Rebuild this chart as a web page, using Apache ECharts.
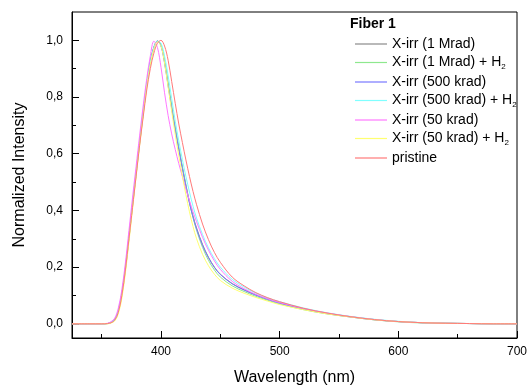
<!DOCTYPE html>
<html><head><meta charset="utf-8">
<script src="https://cdn.jsdelivr.net/npm/echarts@6/dist/echarts.min.js"></script>
<style>html,body{margin:0;padding:0;background:#fff}#c{width:530px;height:385px}</style>
</head><body><div id="c"></div>
<script>
const wavelengths = [325,340,350,355,358,361,364,367,370,373,376,379,382,385,388,391,394,397,400,403,406,409,412,415,418,421,424,427,430,435,440,445,450,460,470,480,490,500,520,540,560,580,600,620,640,660,680,700];

const xirr1M     = [0,0,0,0.001,0.005,0.015,0.045,0.105,0.195,0.305,0.42,0.53,0.64,0.745,0.845,0.925,0.975,0.998,0.982,0.925,0.845,0.765,0.69,0.62,0.553,0.49,0.43,0.38,0.338,0.28,0.235,0.2,0.175,0.142,0.12,0.102,0.087,0.074,0.053,0.037,0.025,0.015,0.008,0.004,0.002,0.001,0,0];
const xirr1MH2   = [0,0,0,0.001,0.004,0.013,0.042,0.1,0.19,0.3,0.415,0.525,0.635,0.74,0.84,0.92,0.972,0.997,0.985,0.93,0.85,0.77,0.693,0.622,0.553,0.488,0.428,0.375,0.33,0.27,0.224,0.19,0.165,0.134,0.114,0.097,0.083,0.07,0.05,0.035,0.024,0.014,0.007,0.003,0.002,0.001,0,0];
const xirr500k   = [0,0,0,0.001,0.005,0.016,0.047,0.108,0.2,0.31,0.425,0.535,0.645,0.75,0.85,0.928,0.977,0.998,0.98,0.92,0.84,0.76,0.685,0.615,0.548,0.485,0.425,0.376,0.334,0.277,0.233,0.199,0.174,0.141,0.119,0.101,0.086,0.073,0.052,0.036,0.024,0.014,0.008,0.004,0.002,0.001,0,0];
const xirr500kH2 = [0,0,0,0.001,0.005,0.015,0.044,0.104,0.193,0.303,0.418,0.528,0.638,0.742,0.842,0.922,0.973,0.997,0.99,0.945,0.875,0.795,0.715,0.645,0.58,0.52,0.465,0.415,0.373,0.315,0.268,0.23,0.2,0.157,0.13,0.108,0.091,0.078,0.056,0.039,0.026,0.016,0.009,0.004,0.002,0.001,0,0];
const xirr50k    = [0,0,0,0.002,0.008,0.02,0.055,0.12,0.215,0.33,0.445,0.555,0.665,0.77,0.865,0.945,0.997,0.975,0.905,0.815,0.735,0.67,0.615,0.565,0.52,0.475,0.435,0.395,0.36,0.305,0.26,0.222,0.192,0.15,0.124,0.104,0.088,0.075,0.054,0.038,0.025,0.015,0.008,0.004,0.002,0.001,0,0];
const xirr50kH2  = [0,0,0,0,0.003,0.01,0.035,0.09,0.18,0.29,0.405,0.52,0.63,0.735,0.835,0.915,0.97,0.995,0.98,0.92,0.835,0.75,0.668,0.593,0.523,0.455,0.395,0.343,0.3,0.245,0.205,0.175,0.153,0.126,0.108,0.093,0.08,0.068,0.05,0.035,0.024,0.014,0.008,0.004,0.002,0.001,0,0];
const pristine   = [0,0,0,0.001,0.004,0.013,0.04,0.1,0.19,0.3,0.41,0.52,0.63,0.73,0.825,0.9,0.955,0.99,1.0,0.98,0.93,0.855,0.778,0.705,0.64,0.578,0.52,0.467,0.42,0.352,0.297,0.252,0.217,0.165,0.134,0.11,0.092,0.078,0.055,0.038,0.025,0.015,0.008,0.004,0.002,0.001,0,0];

const seriesNames = ['X-irr (1 Mrad)','X-irr (1 Mrad) + H2','X-irr (500 krad)','X-irr (500 krad) + H2','X-irr (50 krad)','X-irr (50 krad) + H2','pristine'];
const seriesValues = [xirr1M, xirr1MH2, xirr500k, xirr500kH2, xirr50k, xirr50kH2, pristine];
const seriesColors = ['#8a8a8a','#8ee88e','#7878ff','#80ffff','#ff78ff','#ffff70','#ff7a7a'];

const legendTitle = 'Fiber 1';
const xTicks = [400,500,600,700];
const xMinorTicks = [350,450,550,650];
const yTicks = [0,0.2,0.4,0.6,0.8,1.0];
const yMinorTicks = [0.1,0.3,0.5,0.7,0.9];

const FONT = 'Liberation Sans, Arial, sans-serif';
const chart = echarts.init(document.getElementById('c'), null, {renderer:'canvas'});

const xBase = {type:'value', min:325, max:700, gridIndex:0, position:'bottom', splitLine:{show:false}};
const yBase = {type:'value', min:-0.05, max:1.1, gridIndex:0, position:'left', splitLine:{show:false}};

chart.setOption({
  animation:false,
  backgroundColor:'#fff',
  grid:{left:72, right:13, top:12, bottom:47, containLabel:false, outerBoundsMode:'none',
        show:true, borderColor:'#000', borderWidth:1, backgroundColor:'transparent'},
  graphic:[{type:'text', left:350, top:17, style:{text:legendTitle, font:'bold 14px '+FONT, fill:'#000'}}],
  legend:{
    orient:'vertical', left:350, top:32, itemWidth:32, itemHeight:1.2, itemGap:4.5,
    icon:'rect',
    data:seriesNames,
    formatter:function(name){
      if (name.endsWith(' H2')) return '{n|'+name.slice(0,-1)+'}{s|2}';
      return '{n|'+name+'}';
    },
    textStyle:{
      fontFamily:FONT, color:'#000',
      rich:{
        n:{fontSize:14, lineHeight:16, fontFamily:FONT, color:'#000'},
        s:{fontSize:8, lineHeight:8, verticalAlign:'bottom', fontFamily:FONT, color:'#000'}
      }
    }
  },
  xAxis:[
    Object.assign({}, xBase, {
      name:'Wavelength (nm)', nameLocation:'middle', nameGap:32,
      nameTextStyle:{fontFamily:FONT, fontSize:16, color:'#000'},
      axisLine:{show:true, onZero:false, lineStyle:{color:'#000', width:1}},
      axisTick:{show:true, inside:true, length:7, customValues:xTicks, lineStyle:{color:'#000'}},
      axisLabel:{show:true, customValues:xTicks, margin:8, fontFamily:FONT, fontSize:12, color:'#000'}
    }),
    Object.assign({}, xBase, {
      axisLine:{show:false, onZero:false},
      axisTick:{show:true, inside:true, length:4, customValues:xMinorTicks, lineStyle:{color:'#000'}},
      axisLabel:{show:false}
    })
  ],
  yAxis:[
    Object.assign({}, yBase, {
      name:'Normalized Intensity', nameLocation:'middle', nameGap:44,
      nameTextStyle:{fontFamily:FONT, fontSize:16, color:'#000'},
      axisLine:{show:true, onZero:false, lineStyle:{color:'#000', width:1}},
      axisTick:{show:true, inside:true, length:7, customValues:yTicks, lineStyle:{color:'#000'}},
      axisLabel:{show:true, customValues:yTicks, margin:9, fontFamily:FONT, fontSize:12, color:'#000',
        formatter:function(v){return v.toFixed(1).replace('.', ',');}}
    }),
    Object.assign({}, yBase, {
      axisLine:{show:false, onZero:false},
      axisTick:{show:true, inside:true, length:4, customValues:yMinorTicks, lineStyle:{color:'#000'}},
      axisLabel:{show:false}
    })
  ],
  series: seriesNames.map(function(name, k){
    return {
      name:name, type:'line', xAxisIndex:0, yAxisIndex:0,
      data: wavelengths.map(function(w,i){return [w, seriesValues[k][i]];}),
      showSymbol:false, symbol:'none', smooth:0.35, clip:true,
      lineStyle:{color:seriesColors[k], width:1},
      itemStyle:{color:seriesColors[k]}
    };
  })
});
</script></body></html>
